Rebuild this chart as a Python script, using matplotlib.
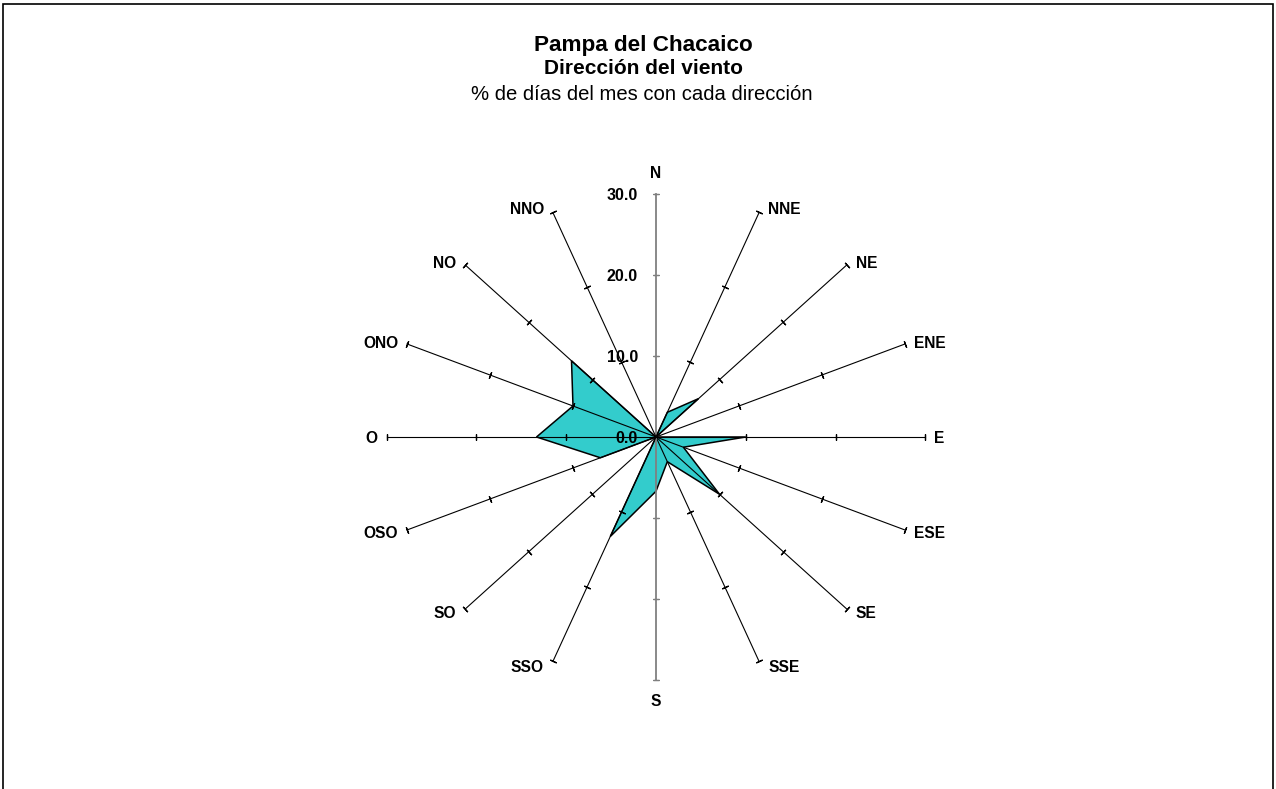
import numpy as np
import matplotlib.pyplot as plt
from matplotlib.patches import Rectangle

# wind direction rose, % of days in the month for each direction
directions = ["N", "NNE", "NE", "ENE", "E", "ESE", "SE", "SSE",
              "S", "SSO", "SO", "OSO", "O", "ONO", "NO", "NNO"]
pct_days = [0.0, 3.3, 6.7, 0.0, 10.0, 3.3, 10.0, 3.3,
            6.7, 13.3, 0.0, 6.7, 13.3, 10.0, 13.3, 0.0]
rings = [0, 10, 20, 30]
ring_labels = ["0.0", "10.0", "20.0", "30.0"]

plt.rcParams['font.family'] = ['Liberation Sans', 'DejaVu Sans']

fig = plt.figure(figsize=(12.76, 7.89), dpi=100)
# the original chart is a bit wider than tall, so the axes keep aspect auto
ax = fig.add_axes([0.2325, 0.0355, 0.5632, 0.8213])
ax.set_xlim(-40, 40)
ax.set_ylim(-40, 40)
ax.axis('off')

sx, sy = 8.98, 8.1  # pixels per unit, x and y
rmax = rings[-1]
theta = np.deg2rad(np.arange(len(directions)) * 360.0 / len(directions))

# data polygon
vals = np.array(pct_days)
px = vals * np.sin(theta)
py = vals * np.cos(theta)
ax.fill(px, py, facecolor='#33CCCC', edgecolor='black', lw=1.1, zorder=2)

# spokes, ticks and direction labels
for name, t in zip(directions, theta):
    s, c = np.sin(t), np.cos(t)
    vertical = abs(s) < 1e-6
    col = '#808080' if vertical else 'black'
    ax.plot([0, rmax * s], [0, rmax * c], color=col,
            lw=1.3 if vertical else 0.8, zorder=3)
    ang = np.degrees(np.arctan2(c * sy, s * sx))
    r = np.array(rings[1:])
    ax.plot(r * s, r * c, ls='none', marker=(2, 2, ang), ms=5,
            mec=col, mew=0.9, zorder=3)
    if vertical:
        off = (0, 22) if c > 0 else (0, -20)
        ha = 'center'
    elif s > 0:
        off = (9, 5 * c)
        ha = 'left'
    else:
        off = (-9, 5 * c)
        ha = 'right'
    ax.annotate(name, (rmax * s, rmax * c), xytext=off,
                textcoords='offset pixels', ha=ha, va='center_baseline',
                fontsize=11.2, fontweight='bold', zorder=5)

# value axis labels along N
for rv, lab in zip(rings, ring_labels):
    ax.annotate(lab, (0, rv), xytext=(-18, 0), textcoords='offset pixels',
                ha='right', va='center_baseline', fontsize=11.5,
                fontweight='bold', zorder=5)

# titles
fig.text(0.504, 0.9354, "Pampa del Chacaico", ha='center', va='baseline',
         fontsize=16.2, fontweight='bold')
fig.text(0.504, 0.9058, "Dirección del viento", ha='center', va='baseline',
         fontsize=15, fontweight='bold')
fig.text(0.503, 0.8733, "% de días del mes con cada dirección", ha='center',
         va='baseline', fontsize=14.6)

# chart area border (open at the bottom, like the cropped original)
fig.patches.append(Rectangle((3 / 1276, -0.05), 1270 / 1276, 785 / 789 + 0.05,
                             transform=fig.transFigure, fill=False,
                             ec='black', lw=1.2))

fig.savefig("out.png", dpi=100)
